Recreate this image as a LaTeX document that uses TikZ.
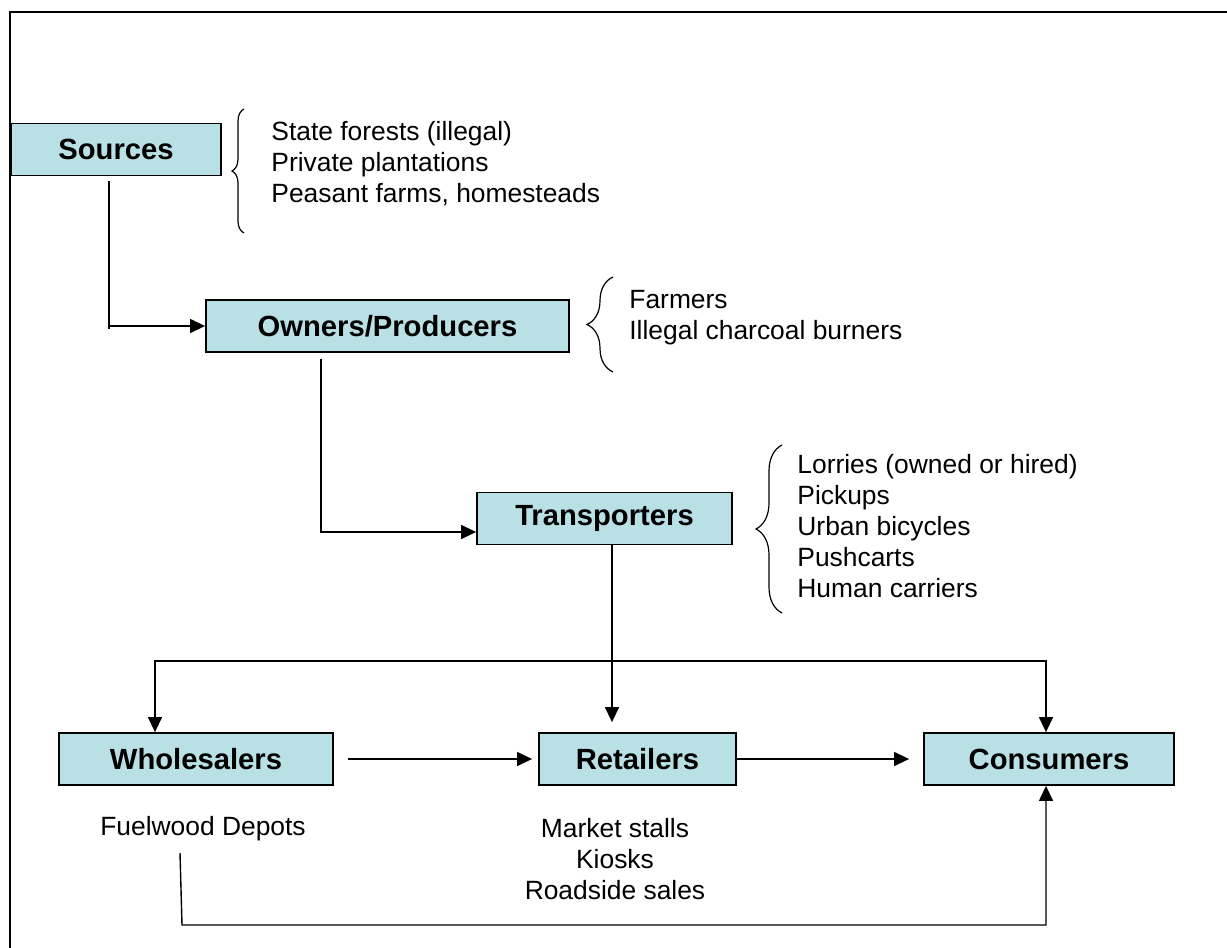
\documentclass[tikz,border=0pt]{standalone}
\usepackage{fontspec}
\setmainfont{Liberation Sans}
\usetikzlibrary{arrows.meta,decorations.pathreplacing}
\definecolor{boxfill}{RGB}{185,224,228}

\begin{document}
\begin{tikzpicture}[
    x=0.5pt, y=-0.5pt,
    >={Triangle[length=7.5pt,width=7pt]},
    box/.style={draw, line width=0.9pt, fill=boxfill, inner sep=0pt,
                minimum height=26pt, font=\fontsize{14.6}{17}\selectfont\bfseries},
    note/.style={align=left, inner sep=0pt, font=\fontsize{13.2}{15.5}\selectfont},
    flow/.style={line width=0.7pt},
    curly/.style={decorate, decoration={brace, amplitude=#1}, line width=0.6pt},
]
\useasboundingbox (0,0) rectangle (1227,948);

%% ---- page frame (runs off the right and bottom) ----
\draw[line width=0.9pt] (10,12) rectangle (1240,960);

%% ---- chain of actors ----
\node[box, minimum width=105pt]   (src)   at (116,149.5) {Sources};
\node[box, minimum width=181.5pt] (own)   at (387.5,326) {Owners/Producers};
\node[box, minimum width=127.5pt] (trans) at (604.5,518.5) {Transporters};

%% ---- bottom row ----
\node[box, minimum width=137pt]  (whole) at (196,759)    {Wholesalers};
\node[box, minimum width=98.5pt] (ret)   at (637.5,759)  {Retailers};
\node[box, minimum width=125pt]  (cons)  at (1049,759)   {Consumers};

%% ---- side lists with braces ----
\draw[curly=6pt]  (244,233) -- (244,109);
\node[note, anchor=west] (srcnote) at (271,163.5)
    {State forests (illegal)\\Private plantations\\Peasant farms, homesteads};

\draw[curly=13pt] (613,372) -- (613,277);
\node[note, anchor=west] (ownnote) at (629,317.5)
    {Farmers\\Illegal charcoal burners};

\draw[curly=13pt] (782,613) -- (782,445);
\node[note, anchor=west] (transnote) at (797,526)
    {Lorries (owned or hired)\\Pickups\\Urban bicycles\\Pushcarts\\Human carriers};

%% ---- lists under the bottom row ----
\node[note] (depots) at (203,829) {Fuelwood Depots};
\node[note, align=center] (retnote) at (615,859.5)
    {Market stalls\\Kiosks\\Roadside sales};

%% ---- Sources to Owners/Producers ----
\coordinate (srcturn) at (109,329);
\draw[flow] ([xshift=-3.5pt,yshift=-2.5pt]src.south) -- (srcturn);
\draw[flow,->] ([yshift=1.5pt]srcturn) -- (own.west);

%% ---- Owners/Producers to Transporters ----
\coordinate (ownturn) at (321,532);
\draw[flow,->,shorten <=3pt] (own.south -| ownturn) -- (ownturn) -- (ownturn -| trans.west);

%% ---- Transporters down to the bottom row ----
\coordinate (split)  at (612,661);
\coordinate (wlturn) at (155,661);
\coordinate (csturn) at (1046,661);
\draw[flow,->,shorten >=5pt] (trans.south -| split) -- (ret.north -| split);
\draw[flow,<->] (wlturn |- whole.north) -- (wlturn) -- (csturn) -- (csturn |- cons.north);

%% ---- along the bottom row ----
\draw[flow,->,shorten <=7pt,shorten >=3pt] (whole.east) -- (ret.west);
\draw[flow,->,shorten >=7pt] (ret.east) -- (cons.west);

%% ---- depots straight to consumers ----
\coordinate (dpstart) at (180,853);
\coordinate (dpturn)  at (182,925);
\draw[flow,->] (dpstart) -- (dpturn) -- (dpturn -| csturn) -- (csturn |- cons.south);

\end{tikzpicture}
\end{document}
